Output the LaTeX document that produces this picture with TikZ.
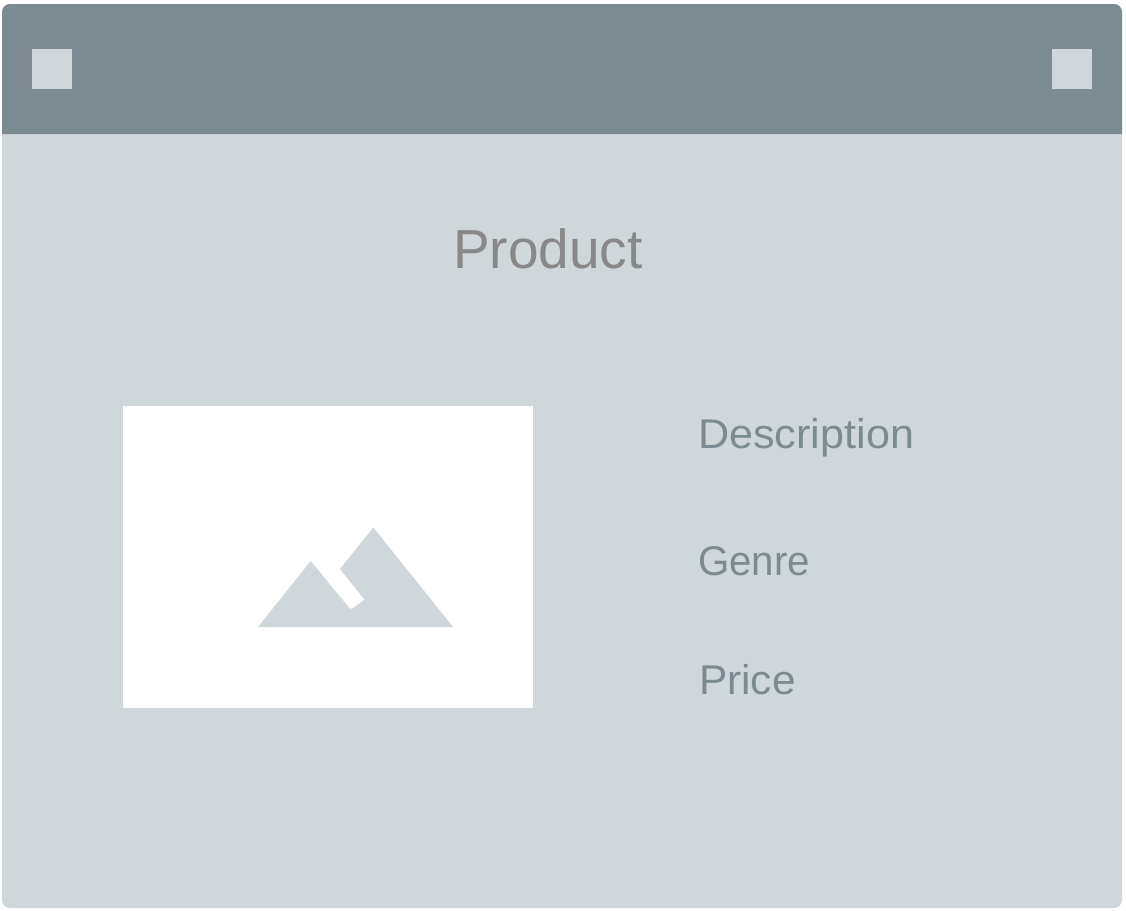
\documentclass[tikz,border=0pt]{standalone}
\usepackage{fontspec}
\usepackage{graphicx}
\setmainfont{Liberation Sans}
\definecolor{headc}{HTML}{7C8A91}
\definecolor{bodyc}{HTML}{D0D7DB}
\definecolor{titlec}{HTML}{888888}
\definecolor{labelc}{HTML}{7C8A91}
\tikzset{
  winbtn/.style={fill=bodyc,draw=none,minimum size=40pt,inner sep=0pt,outer sep=0pt,rectangle},
  titletext/.style={text=titlec,anchor=base,inner sep=0pt,font=\fontsize{55}{60}\selectfont},
  labeltext/.style={text=labelc,anchor=base west,inner sep=0pt,font=\fontsize{41.5}{46}\selectfont},
}
\begin{document}
\begin{tikzpicture}[x=1pt,y=-1pt]
\useasboundingbox (0,0) rectangle (1126,910);
\fill[white] (0,0) rectangle (1126,910);
% window body and header
\fill[bodyc,rounded corners=8pt] (2,4) rectangle (1122,908);
\fill[headc] (2,134) -- (2,12) arc[start angle=180,end angle=90,radius=8pt] -- (1114,4) arc[start angle=90,end angle=0,radius=8pt] -- (1122,134) -- cycle;
\node[winbtn] (btnL) at (52,69) {};
\node[winbtn] (btnR) at (1072,69) {};
\node[titletext] (title) at (548,268.5) {Product};
% image placeholder
\fill[white] (123,406) rectangle (533,708);
\fill[bodyc] (258,627) -- (310.7,561) -- (349.6,608.3)
  .. controls (350.3,609.2) and (351.2,609.3) .. (352.2,608.7)
  -- (364.7,599.8) -- (340,569) -- (373.3,527.5) -- (453,627) -- cycle;
\node[labeltext] (desc) at (698,448) {\scalebox{1.04}[1]{Description}};
\node[labeltext] (genre) at (698,575) {\scalebox{0.97}[1]{Genre}};
\node[labeltext] (price) at (699,694) {\scalebox{1.02}[1]{Price}};
\end{tikzpicture}
\end{document}
